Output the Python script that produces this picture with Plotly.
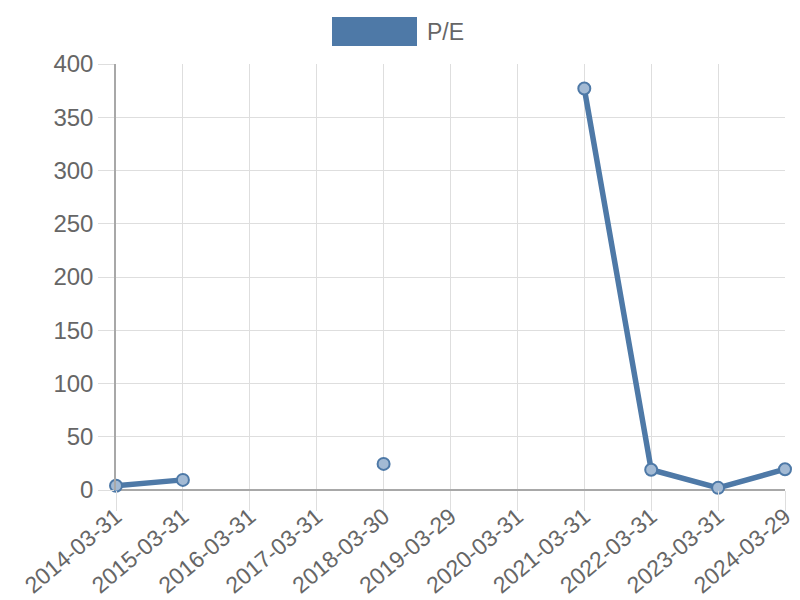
import plotly.graph_objects as go

dates = ["2014-03-31", "2015-03-31", "2016-03-31", "2017-03-31", "2018-03-30",
         "2019-03-29", "2020-03-31", "2021-03-31", "2022-03-31", "2023-03-31",
         "2024-03-29"]
pe = [4, 9.5, None, None, 24.5, None, None, 377, 19, 2, 19.5]

blue = "#4e79a7"
grid = "#dedede"
font = dict(family="Liberation Sans, Arial, sans-serif", size=24, color="#666666")

fig = go.Figure()
fig.add_trace(go.Scatter(
    x=dates, y=pe, name="P/E", mode="lines+markers",
    connectgaps=False, cliponaxis=False,
    line=dict(color=blue, width=5.5),
    marker=dict(size=12, color="#a3bad4", line=dict(color=blue, width=2)),
    showlegend=False
))

# chart.js style legend box
fig.add_shape(type="rect", xref="paper", yref="paper",
              x0=(332 - 116) / 669, x1=(417 - 116) / 669,
              y0=(490 - 46) / 426, y1=(490 - 17) / 426,
              fillcolor=blue, line=dict(width=0))
fig.add_annotation(text="P/E", xref="paper", yref="paper",
                   x=(425 - 116) / 669, y=(490 - 32) / 426,
                   xanchor="left", yanchor="middle", showarrow=False,
                   font=dict(family=font["family"], size=23, color="#666666"))

# page body adds an 8px offset, so the figure is 792x592
fig.update_layout(
    width=792, height=592,
    margin=dict(l=108, r=15, t=56, b=110),
    plot_bgcolor="white", paper_bgcolor="white",
    font=font,
)
fig.update_xaxes(
    type="category", range=[0, 10], tickangle=-40, automargin=False,
    showgrid=True, gridcolor=grid, gridwidth=1,
    ticks="outside", ticklen=20, tickcolor=grid, ticklabelstandoff=-17,
    showline=False, zeroline=False,
    tickfont=dict(size=23, color="#666666"),
)
fig.update_yaxes(
    range=[0, 400], dtick=50, automargin=False,
    showgrid=True, gridcolor=grid, gridwidth=1,
    ticks="outside", ticklen=16, tickcolor=grid,
    showline=True, linecolor="#a8a8a8", linewidth=1.5,
    zeroline=True, zerolinecolor="#a8a8a8", zerolinewidth=2,
    tickfont=dict(size=24, color="#666666"),
)

fig.write_html("out.html")
